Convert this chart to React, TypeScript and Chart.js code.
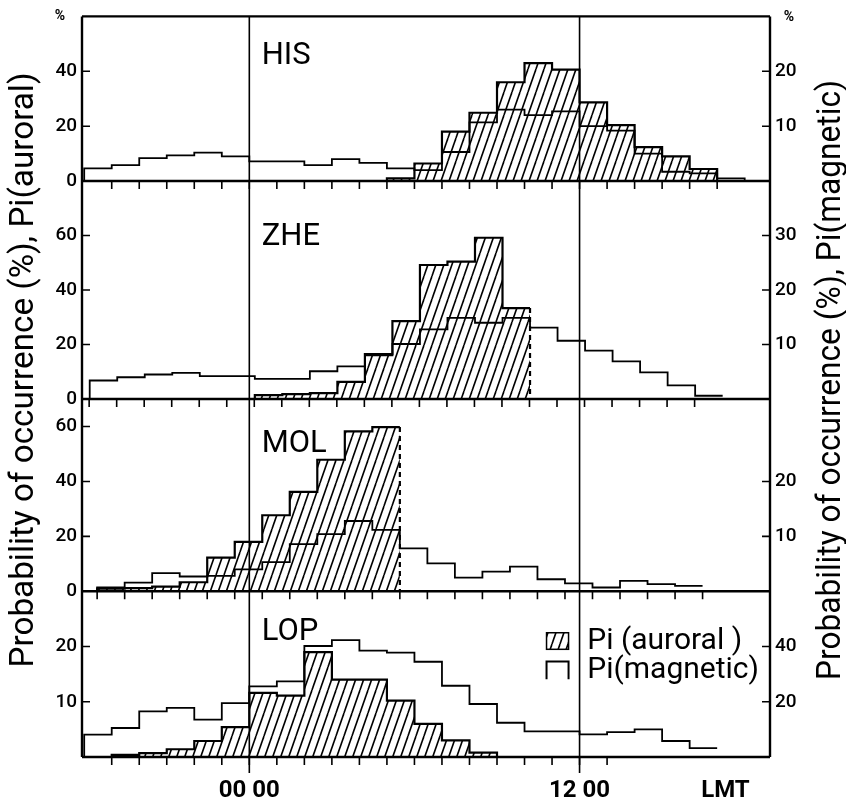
import React, { useEffect, useRef } from 'react';
import { Chart, registerables } from 'chart.js';

Chart.register(...registerables);

// ---------- axis range (hours, LMT) ----------
const X_MIN = -6.08;
const X_MAX = 18.92;

const stations = ['HIS', 'ZHE', 'MOL', 'LOP'];

// ---------- HIS ----------
const hisAuroralStart = 5;
const hisAuroral = [1.0, 6.4, 18.0, 24.9, 36.0, 43.0, 40.6, 28.7, 20.4, 12.4, 9.0, 4.4];
const hisMagneticStart = -6;
const hisMagnetic = [2.3, 2.9, 4.2, 4.7, 5.2, 4.5, 3.6, 3.6, 2.9, 4.0, 3.3, 2.3, 2.0, 5.3, 10.7, 13.0, 12.0, 12.7, 10.0, 9.2, 5.0, 1.7, 1.4, 0.5];

// ---------- ZHE ----------
const zheAuroralStart = 0.2;
const zheAuroral = [1.4, 1.8, 2.2, 6.3, 16.5, 28.6, 49.2, 50.4, 59.2, 33.4];
const zheMagneticStart = -5.8;
const zheMagnetic = [3.4, 4.0, 4.5, 4.8, 4.2, 4.2, 3.7, 3.7, 5.1, 6.0, 8.0, 10.1, 12.8, 14.9, 14.0, 14.9, 13.1, 10.7, 8.9, 6.9, 4.9, 2.5, 0.6];

// ---------- MOL ----------
const molAuroralStart = -5.53;
const molAuroral = [1.0, 1.2, 1.7, 3.3, 12.3, 18.0, 27.7, 36.2, 47.9, 58.2, 59.8];
const molMagneticStart = -5.53;
const molMagnetic = [0.7, 1.6, 3.3, 2.7, 2.8, 4.0, 5.3, 8.6, 10.4, 12.8, 11.2, 7.8, 5.1, 2.5, 3.6, 4.5, 2.2, 1.45, 0.7, 1.9, 1.3, 1.0];

// ---------- LOP ----------
const lopAuroralStart = -5;
const lopAuroral = [0.4, 0.7, 1.4, 2.9, 5.4, 11.6, 11.1, 19.0, 14.0, 14.0, 10.2, 6.0, 3.0, 0.8];
const lopMagneticStart = -6;
const lopMagnetic = [8.1, 10.5, 16.5, 17.8, 13.5, 19.5, 25.6, 27.4, 40.2, 42.3, 38.5, 37.8, 34.5, 25.8, 19.2, 12.4, 9.3, 9.3, 8.2, 9.0, 10.0, 5.8, 3.2];

// ---------- axes ----------
const leftMax = [60, 80, 70, 30];
const leftStep = [10, 10, 10, 5];
const leftLabels = [[0, 20, 40], [0, 20, 40, 60], [0, 20, 40, 60], [10, 20]];
const rightMax = [30, 40, 35, 60];
const rightStep = [5, 5, 5, 10];
const rightLabels = [[10, 20], [10, 20, 30], [10, 20], [20, 40]];
const hourTickOffset = [0, 0.18, 0.47, 0];
const hourTickFirst = [-5, -6, -6, -5];
const hourTickLast = [17, 16, 16, 13];
const xLabelValues = [0, 12, 17.3];
const xLabelTexts = ['00 00', '12 00', 'LMT'];

const auroralStarts = [hisAuroralStart, zheAuroralStart, molAuroralStart, lopAuroralStart];
const auroralValues = [hisAuroral, zheAuroral, molAuroral, lopAuroral];
const magneticStarts = [hisMagneticStart, zheMagneticStart, molMagneticStart, lopMagneticStart];
const magneticValues = [hisMagnetic, zheMagnetic, molMagnetic, lopMagnetic];
const auroralDashedEnd = [false, true, true, false];
const magneticDropEnd = [true, false, false, false];

// layout (pixel heights of the four panels)
const panelHeights = [167, 221, 195, 168];
const stationLabelY = [42.5, 56.5, 50.6, 21.2];
const stationLabelX = 0.45;

const FONT = 'Roboto';

function stepPoints(start: number, vals: number[], dropEnd: boolean) {
  const pts: { x: number; y: number }[] = [{ x: start, y: 0 }];
  vals.forEach((v, i) => pts.push({ x: start + i, y: v }));
  const end = start + vals.length;
  pts.push({ x: end, y: vals[vals.length - 1] });
  if (dropEnd) pts.push({ x: end, y: 0 });
  return pts;
}

function makeHatch(): CanvasPattern {
  const w = 8, h = 23;
  const c = document.createElement('canvas');
  c.width = w; c.height = h;
  const g = c.getContext('2d')!;
  g.strokeStyle = '#000';
  g.lineWidth = 1.6;
  for (const k of [-1, 0, 1]) {
    g.beginPath();
    g.moveTo(k * w, h);
    g.lineTo(k * w + w, 0);
    g.stroke();
  }
  return g.createPattern(c, 'repeat')!;
}

export default function App() {
  const ref = useRef<HTMLCanvasElement>(null);

  useEffect(() => {
    const canvas = ref.current!;
    const hatch = makeHatch();

    const scales: any = {
      x: {
        type: 'linear',
        position: 'bottom',
        min: X_MIN,
        max: X_MAX,
        grid: { display: false, drawTicks: false },
        border: { display: false },
        afterBuildTicks: (s: any) => { s.ticks = xLabelValues.map(v => ({ value: v })); },
        afterFit: (s: any) => { s.height = 49; },
        ticks: {
          autoSkip: false,
          maxRotation: 0,
          padding: 20,
          color: '#000',
          font: { family: FONT, size: 24, weight: 'bold' },
          callback: (v: number) => {
            const i = xLabelValues.indexOf(v);
            return i >= 0 ? xLabelTexts[i] : null;
          },
        },
      },
    };
    for (let i = stations.length - 1; i >= 0; i--) {
      scales['yL_' + stations[i]] = {
        type: 'linear',
        position: 'left',
        stack: 'left',
        stackWeight: panelHeights[i],
        min: 0,
        max: leftMax[i],
        grid: { display: false, drawTicks: false },
        border: { display: false },
        afterFit: (s: any) => { s.width = 82; },
        ticks: {
          stepSize: leftStep[i],
          autoSkip: false,
          padding: 5,
          color: '#000',
          font: { family: FONT, size: 19, weight: '500' },
          callback: (v: number) => (leftLabels[i].includes(v) ? String(v) : null),
        },
      };
    }
    for (let i = 0; i < stations.length; i++) {
      scales['yR_' + stations[i]] = {
        type: 'linear',
        position: 'right',
        stack: 'right',
        stackWeight: panelHeights[i],
        min: 0,
        max: rightMax[i],
        grid: { display: false, drawTicks: false },
        border: { display: false },
        afterFit: (s: any) => { s.width = 76; },
        ticks: {
          stepSize: rightStep[i],
          autoSkip: false,
          padding: 5,
          color: '#000',
          font: { family: FONT, size: 19, weight: '500' },
          callback: (v: number) => (rightLabels[i].includes(v) ? String(v) : null),
        },
      };
    }

    const datasets: any[] = [];
    stations.forEach((name, i) => {
      const aPts = stepPoints(auroralStarts[i], auroralValues[i], true);
      const lastIdx = aPts.length - 1;
      datasets.push({
        label: name + ' Pi (auroral)',
        data: aPts,
        yAxisID: 'yL_' + name,
        xAxisID: 'x',
        stepped: 'before',
        fill: 'origin',
        backgroundColor: hatch,
        borderColor: '#000',
        borderWidth: 2.2,
        pointRadius: 0,
        order: 1,
        segment: auroralDashedEnd[i]
          ? { borderDash: (c: any) => (c.p1DataIndex === lastIdx ? [5, 4] : undefined) }
          : undefined,
      });
      datasets.push({
        label: name + ' Pi (magnetic)',
        data: stepPoints(magneticStarts[i], magneticValues[i], magneticDropEnd[i]),
        yAxisID: 'yR_' + name,
        xAxisID: 'x',
        stepped: 'before',
        fill: false,
        borderColor: '#000',
        borderWidth: 1.8,
        pointRadius: 0,
        order: 0,
      });
    });

    const decor = {
      id: 'decor',
      afterDraw(chart: any) {
        const { ctx, chartArea: ca, scales: sc } = chart;
        const sx = sc.x;
        ctx.save();
        ctx.strokeStyle = '#000';
        ctx.fillStyle = '#000';
        stations.forEach((name, i) => {
          const yl = sc['yL_' + name];
          const yr = sc['yR_' + name];
          const y0 = yl.getPixelForValue(0);
          ctx.lineWidth = 1.6;
          ctx.beginPath();
          for (let k = hourTickFirst[i]; k <= hourTickLast[i]; k++) {
            const xp = sx.getPixelForValue(k + hourTickOffset[i]);
            ctx.moveTo(xp, y0);
            ctx.lineTo(xp, y0 + 8);
          }
          yl.ticks.forEach((t: any) => {
            if (t.value > yl.min && t.value < yl.max) {
              const y = yl.getPixelForValue(t.value);
              ctx.moveTo(ca.left, y);
              ctx.lineTo(ca.left + 8, y);
            }
          });
          yr.ticks.forEach((t: any) => {
            if (t.value > yr.min && t.value < yr.max) {
              const y = yr.getPixelForValue(t.value);
              ctx.moveTo(ca.right - 8, y);
              ctx.lineTo(ca.right, y);
            }
          });
          ctx.stroke();
          ctx.lineWidth = 2.5;
          ctx.beginPath();
          ctx.moveTo(ca.left, y0);
          ctx.lineTo(ca.right, y0);
          ctx.stroke();
          ctx.font = `31px ${FONT}`;
          ctx.textAlign = 'left';
          ctx.textBaseline = 'alphabetic';
          ctx.fillText(name, sx.getPixelForValue(stationLabelX), yl.getPixelForValue(stationLabelY[i]));
        });
        // frame
        ctx.lineWidth = 2.4;
        ctx.beginPath();
        ctx.moveTo(ca.left, ca.top);
        ctx.lineTo(ca.right, ca.top);
        ctx.moveTo(ca.left, ca.top);
        ctx.lineTo(ca.left, ca.bottom);
        ctx.moveTo(ca.right, ca.top);
        ctx.lineTo(ca.right, ca.bottom);
        ctx.stroke();
        // 00 and 12 LMT lines
        ctx.lineWidth = 1.6;
        [0, 12].forEach(h => {
          const xp = sx.getPixelForValue(h);
          ctx.beginPath();
          ctx.moveTo(xp, ca.top);
          ctx.lineTo(xp, ca.bottom + 16);
          ctx.stroke();
        });
        // % marks
        ctx.font = `bold 14px ${FONT}`;
        ctx.textAlign = 'center';
        ctx.fillText('%', 60, 20);
        ctx.fillText('%', 789, 21);
        // legend
        const lop = sc.yL_LOP;
        const lx0 = sx.getPixelForValue(10.8);
        const lx1 = sx.getPixelForValue(11.6);
        const ly0 = lop.getPixelForValue(22.5);
        const ly1 = lop.getPixelForValue(19.5);
        ctx.fillStyle = hatch;
        ctx.fillRect(lx0, ly0, lx1 - lx0, ly1 - ly0);
        ctx.lineWidth = 1.5;
        ctx.strokeRect(lx0, ly0, lx1 - lx0, ly1 - ly0);
        ctx.fillStyle = '#000';
        const my0 = lop.getPixelForValue(17.3);
        const my1 = lop.getPixelForValue(14.1);
        ctx.lineWidth = 2;
        ctx.beginPath();
        ctx.moveTo(lx0, my1);
        ctx.lineTo(lx0, my0);
        ctx.lineTo(lx1, my0);
        ctx.lineTo(lx1, my1);
        ctx.stroke();
        ctx.font = `30px ${FONT}`;
        ctx.textAlign = 'left';
        const tx = sx.getPixelForValue(12.28);
        ctx.fillText('Pi (auroral )', tx, lop.getPixelForValue(19.5));
        ctx.fillText('Pi(magnetic)', tx, lop.getPixelForValue(14.3));
        // axis titles
        const drawTitle = (text: string, x: number, y: number, len: number) => {
          ctx.save();
          ctx.font = `33px ${FONT}`;
          ctx.textAlign = 'center';
          ctx.textBaseline = 'alphabetic';
          const w = ctx.measureText(text).width;
          ctx.translate(x, y);
          ctx.rotate(-Math.PI / 2);
          ctx.scale(len / w, 1);
          ctx.fillText(text, 0, 0);
          ctx.restore();
        };
        drawTitle('Probability of occurrence (%), Pi(auroral)', 33, 370, 595);
        drawTitle('Probability of occurrence (%), Pi(magnetic)', 840, 380, 600);
        ctx.restore();
      },
    };

    const chart = new Chart(canvas, {
      type: 'line',
      data: { datasets },
      options: {
        responsive: false,
        maintainAspectRatio: false,
        animation: false,
        events: [],
        layout: { padding: { top: 6, left: 0, right: 0, bottom: 0 } },
        plugins: { legend: { display: false }, tooltip: { enabled: false }, title: { display: false } },
        scales,
      } as any,
      plugins: [decor],
    });
    return () => chart.destroy();
  }, []);

  return (
    <div style={{ position: 'absolute', left: 0, top: 0, width: 846, height: 806, background: '#fff' }}>
      <canvas ref={ref} width={846} height={806} style={{ display: 'block', width: 846, height: 806 }} />
    </div>
  );
}
